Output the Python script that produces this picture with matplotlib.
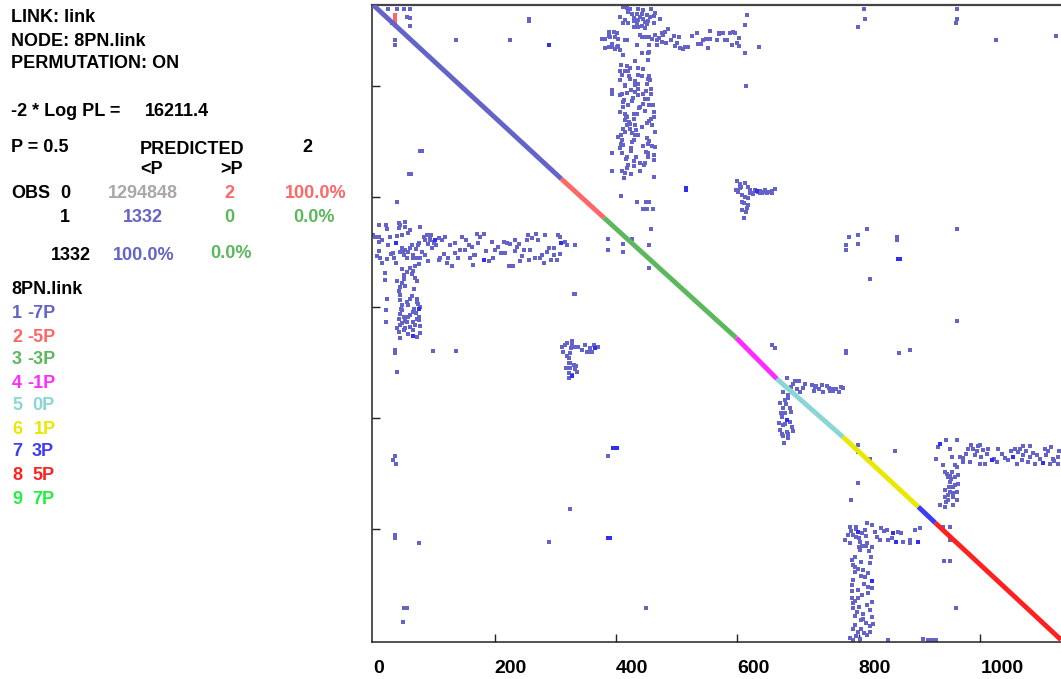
import matplotlib
matplotlib.use('Agg')
import matplotlib.pyplot as plt

# values, axis units
# diagonal, one stretch per class
diag_x = [0, 310, 380, 598, 665, 774, 898, 926, 1133]
diag_y = [1146, 832, 762, 545, 471, 366, 240, 211, 0]
class_nums = ['1', '2', '3', '4', '5', '6', '7', '8', '9']
class_names = ['-7P', '-5P', '-3P', '-1P', '0P', '1P', '3P', '5P', '7P']
class_colors = ['#6464c8', '#ff6666', '#5cb85c', '#ff2cff', '#88d6d6', '#e8e800', '#3c3cf0', '#ff2020', '#20f040']

# off diagonal links
top_blob_x = [412, 418, 423, 437, 445, 458, 407, 426, 434, 442, 451, 462, 415, 420, 429, 437, 445, 453, 462, 473, 412, 434, 442, 451, 437, 429, 448, 420, 430, 440, 448, 456, 465]
top_blob_y = [1143, 1141, 1139, 1139, 1137, 1139, 1125, 1130, 1130, 1130, 1128, 1126, 1119, 1114, 1122, 1119, 1120, 1118, 1113, 1120, 1114, 1112, 1108, 1112, 1106, 1107, 1105, 1133, 1118, 1125, 1116, 1124, 1131]
top_band_x = [377, 382, 388, 388, 396, 401, 399, 404, 415, 418, 382, 388, 393, 401, 406, 411, 434, 442, 448, 455, 464, 470, 475, 481, 486, 475, 467, 483, 495, 503, 497, 506, 514, 519, 455, 455, 442, 533, 555, 544, 555, 566, 580, 569, 577, 588, 596, 602, 591, 602, 535, 552, 613, 635, 613, 615, 614, 390, 394, 398, 403, 440, 446, 452, 460, 468, 478, 490, 500, 510, 525, 540, 548, 570, 582, 593, 600]
top_band_y = [1085, 1085, 1098, 1090, 1098, 1095, 1089, 1084, 1082, 1082, 1068, 1070, 1071, 1070, 1065, 1056, 1074, 1089, 1089, 1089, 1092, 1086, 1095, 1098, 1102, 1080, 1074, 1077, 1090, 1089, 1072, 1068, 1070, 1070, 1074, 1062, 1059, 1096, 1099, 1083, 1085, 1082, 1082, 1094, 1095, 1096, 1096, 1086, 1074, 1072, 1076, 1068, 1060, 1070, 1110, 1128, 1000, 1088, 1075, 1066, 1072, 1092, 1088, 1060, 1084, 1083, 1092, 1082, 1078, 1066, 1090, 1076, 1084, 1096, 1083, 1098, 1078]
top_stem_x = [431, 452, 408, 418, 423, 406, 415, 420, 437, 445, 406, 423, 437, 442, 455, 452, 456, 437, 393, 393, 410, 415, 407, 418, 431, 437, 451, 431, 437, 458, 458, 453, 448, 445, 426, 420, 411, 461, 463, 412, 407, 415, 418, 415, 429, 434, 429, 462, 455, 451, 423, 431, 418, 412, 423, 408, 404, 415, 410, 431, 437, 429, 426, 464, 451, 452, 445, 459, 464, 406, 412, 424, 393, 410, 418, 433, 453, 453, 463, 463, 439, 429, 420, 418, 448, 393, 410, 415, 424, 440, 413, 462, 410, 414, 421, 425, 428, 432, 436, 440, 444, 447, 450, 454, 457, 460, 413, 417, 422, 427, 433, 438, 443, 449, 455, 409, 416, 424, 430, 446]
top_stem_y = [1045, 1047, 1038, 1035, 1032, 1026, 1026, 1026, 1032, 1030, 1011, 1012, 1020, 1017, 1017, 1012, 1011, 1004, 992, 985, 986, 1000, 983, 988, 1001, 1003, 1004, 989, 983, 995, 985, 976, 976, 967, 973, 965, 970, 965, 953, 961, 953, 950, 944, 938, 950, 949, 941, 944, 937, 933, 932, 929, 929, 923, 923, 911, 908, 917, 902, 911, 911, 902, 899, 916, 905, 895, 892, 892, 890, 887, 893, 887, 879, 879, 872, 871, 878, 871, 875, 866, 860, 856, 857, 851, 860, 846, 846, 842, 841, 847, 833, 836, 1020, 1002, 1018, 992, 978, 1008, 995, 962, 985, 955, 990, 965, 940, 930, 975, 945, 935, 915, 920, 960, 925, 880, 900, 895, 868, 882, 865, 858]
top_side_x = [604, 613, 601, 621, 608, 618, 629, 637, 646, 657, 611, 618, 608, 614, 611, 598, 606, 618, 408, 434, 450, 455, 445, 451, 461, 600, 604, 612, 620, 626, 634, 640, 650, 608, 616]
top_side_y = [823, 825, 809, 812, 803, 798, 812, 810, 812, 810, 789, 785, 776, 773, 762, 812, 818, 818, 802, 791, 791, 791, 778, 778, 778, 828, 815, 800, 806, 805, 808, 806, 809, 790, 780]

left_band_x = [0, 10, 21, 22, 10, 28, 42, 42, 53, 53, 61, 77, 39, 47, 9, 9, 6, 14, 22, 33, 38, 47, 53, 61, 50, 71, 71, 77, 91, 86, 76, 88, 94, 108, 97, 119, 108, 117, 121, 130, 127, 135, 135, 146, 153, 143, 151, 162, 172, 171, 182, 160, 165, 168, 186, 190, 198, 195, 201, 215, 220, 234, 237, 234, 217, 223, 231, 242, 248, 259, 256, 253, 255, 268, 272, 283, 267, 278, 281, 289, 297, 308, 316, 302, 308, 297, 332, 57, 66, 100, 104, 86, 93, 3, 14, 25, 44, 49, 58, 64, 80, 96, 100, 110, 114, 124, 140, 157, 166, 176, 205, 210, 226, 240, 245, 262, 275, 286, 293, 304, 320, 12, 30, 35, 66, 74, 84, 90, 44, 56]
left_band_y = [731, 748, 748, 742, 728, 728, 752, 743, 755, 746, 740, 745, 729, 731, 718, 701, 692, 680, 687, 698, 681, 707, 704, 707, 695, 705, 689, 689, 684, 695, 716, 731, 722, 725, 707, 727, 686, 696, 680, 674, 713, 716, 698, 727, 722, 703, 704, 709, 716, 733, 733, 689, 677, 695, 701, 683, 689, 718, 704, 719, 716, 722, 710, 701, 698, 675, 674, 683, 704, 704, 686, 722, 731, 733, 722, 731, 689, 695, 681, 707, 707, 727, 719, 686, 697, 695, 713, 700, 695, 716, 712, 722, 726, 727, 722, 712, 748, 700, 735, 712, 700, 730, 718, 690, 722, 690, 690, 712, 694, 728, 710, 698, 714, 715, 692, 725, 690, 700, 685, 730, 712, 690, 696, 690, 690, 712, 728, 715, 700, 690]
left_stem_x = [20, 20, 22, 21, 21, 47, 61, 69, 75, 66, 50, 40, 47, 53, 44, 69, 72, 68, 44, 44, 47, 61, 72, 58, 77, 66, 44, 50, 58, 72, 75, 55, 77, 44, 61, 42, 50, 66, 77, 72, 44, 36, 36, 99, 136, 39, 72, 55, 64, 47, 68, 53, 69, 39, 42, 50, 56, 64, 74, 46, 60, 70, 48, 65, 52, 76, 43, 58]
left_stem_y = [662, 650, 616, 595, 574, 669, 671, 674, 678, 665, 659, 648, 644, 638, 636, 653, 647, 633, 622, 613, 604, 616, 615, 604, 601, 592, 589, 583, 583, 580, 577, 574, 566, 568, 565, 556, 559, 559, 553, 547, 544, 523, 518, 521, 521, 483, 610, 610, 620, 595, 598, 575, 568, 562, 630, 652, 664, 660, 606, 598, 586, 590, 572, 574, 563, 583, 580, 552]
hook_x = [311, 313, 319, 327, 330, 324, 322, 324, 330, 335, 322, 322, 324, 344, 349, 357, 360, 371, 330, 333, 386, 386, 412, 412, 426, 455, 458, 455, 318, 332, 328, 316, 326, 320, 334, 328, 338, 352, 364, 354, 322]
hook_y = [528, 520, 535, 540, 529, 517, 508, 499, 496, 484, 481, 473, 490, 523, 532, 526, 520, 529, 624, 624, 723, 704, 714, 700, 723, 713, 741, 672, 490, 488, 532, 532, 526, 512, 494, 478, 528, 520, 532, 520, 500]

mid_x = [681, 695, 702, 689, 708, 703, 722, 730, 739, 741, 747, 755, 763, 774, 675, 684, 670, 675, 686, 673, 686, 675, 670, 681, 692, 675, 684, 678, 678, 684, 750, 758, 770, 728, 672, 680, 688, 678, 690, 674, 684, 668, 676, 712, 726, 735, 752, 768, 692, 698]
mid_y = [472, 468, 468, 457, 454, 447, 460, 458, 460, 447, 458, 452, 452, 454, 447, 442, 427, 418, 418, 403, 394, 388, 379, 376, 377, 367, 364, 409, 433, 436, 455, 449, 456, 456, 410, 426, 412, 390, 384, 372, 372, 392, 355, 462, 450, 452, 450, 448, 462, 452]
right_x = [931, 944, 961, 950, 927, 953, 939, 966, 977, 988, 997, 1005, 1013, 1030, 1035, 972, 983, 991, 1002, 999, 1008, 1027, 1046, 1057, 1062, 1071, 1082, 1071, 1082, 1093, 1060, 1079, 1090, 1106, 1117, 1109, 1120, 1128, 1115, 1128, 942, 953, 961, 947, 958, 950, 964, 942, 950, 961, 942, 955, 947, 933, 942, 955, 961, 950, 955, 947, 958, 972, 980, 994, 1000, 1011, 1022, 1040, 1050, 1066, 1076, 1087, 1098, 1112, 1122, 1130, 945, 952, 958, 964, 948, 955, 944, 985, 1068]
right_y = [348, 360, 360, 345, 326, 330, 315, 330, 336, 345, 350, 342, 345, 345, 336, 321, 321, 333, 330, 318, 318, 321, 324, 345, 339, 350, 350, 333, 330, 333, 318, 321, 317, 345, 348, 333, 327, 330, 318, 317, 303, 303, 312, 294, 294, 285, 282, 270, 267, 267, 258, 258, 252, 243, 240, 243, 252, 296, 276, 262, 316, 328, 345, 340, 352, 336, 326, 328, 340, 344, 340, 338, 326, 340, 322, 340, 300, 290, 280, 298, 275, 265, 248, 352, 324]
bottom_x = [785, 796, 813, 821, 777, 785, 802, 810, 826, 837, 846, 865, 835, 848, 873, 884, 892, 901, 813, 821, 802, 793, 788, 804, 818, 793, 807, 793, 815, 810, 791, 788, 799, 821, 788, 799, 791, 821, 813, 793, 807, 818, 821, 807, 793, 804, 818, 799, 813, 791, 802, 790, 795, 806, 812, 800, 790, 785, 787, 795, 800, 806, 811, 816, 820, 790, 798, 804, 809, 815, 790, 797, 803, 812, 818, 796, 808, 788, 793, 800, 805, 815, 823, 782, 830, 842, 855, 870, 885]
bottom_y = [204, 204, 210, 207, 181, 174, 177, 198, 195, 201, 198, 195, 180, 180, 177, 180, 198, 201, 174, 168, 162, 150, 144, 141, 139, 132, 126, 123, 120, 114, 108, 99, 90, 93, 76, 75, 66, 69, 63, 43, 47, 53, 41, 38, 26, 20, 25, 14, 8, 0, 2, 190, 185, 170, 188, 168, 20, 4, 196, 200, 183, 192, 170, 160, 150, 135, 128, 115, 100, 85, 58, 50, 35, 30, 14, 6, 12, 88, 70, 60, 80, 96, 28, 190, 186, 196, 184, 192, 174]

single_x = [24, 39, 50, 60, 36, 36, 60, 55, 60, 31, 136, 225, 256, 256, 77, 80, 59, 62, 39, 809, 810, 798, 961, 962, 960, 1026, 1125, 636, 626, 637, 643, 648, 657, 662, 813, 783, 799, 779, 779, 799, 863, 863, 962, 819, 961, 657, 662, 779, 779, 866, 885, 798, 799, 818, 798, 787, 859, 848, 906, 914, 920, 927, 939, 950, 950, 941, 950, 960, 36, 33, 37, 386, 324, 36, 36, 76, 290, 50, 55, 450, 49]
single_y = [1139, 1139, 1139, 1139, 1082, 1074, 1122, 1125, 1108, 1113, 1082, 1082, 1121, 1118, 883, 883, 841, 841, 790, 1139, 1121, 1107, 1139, 1121, 1113, 1082, 1090, 1071, 807, 806, 809, 807, 807, 813, 741, 727, 730, 712, 704, 715, 727, 722, 741, 652, 575, 532, 527, 521, 517, 518, 523, 351, 339, 327, 283, 252, 341, 0, 1, 0, 0, 0, 204, 204, 180, 143, 143, 57, 332, 324, 318, 332, 236, 189, 183, 175, 176, 57, 57, 57, 32]

# brighter points, where several links fall on one cell
bright_x = [290, 515, 515, 632, 38, 102, 182, 310, 75, 66, 327, 366, 681, 933, 1019, 1054, 1104, 799, 857, 862, 898, 821, 864, 868, 395, 401, 386, 390]
bright_y = [1074, 812, 815, 811, 716, 722, 686, 716, 597, 548, 477, 526, 397, 354, 324, 330, 320, 195, 192, 177, 177, 106, 687, 687, 346, 346, 183, 183]

# the short red mark next to the diagonal
red_x = [36, 36, 36, 36]
red_y = [1128, 1122, 1116, 1110]

tick_vals = [200, 400, 600, 800, 1000]

fig = plt.figure(figsize=(10.61, 6.79), dpi=100)
W, H = 1061.0, 679.0
ax = fig.add_axes([372 / W, 1 - 642 / H, (W - 372) / W, (642 - 5) / H])

for i in range(len(diag_x) - 1):
    ax.plot(diag_x[i:i + 2], diag_y[i:i + 2], color=class_colors[i], lw=3.5, solid_capstyle='butt', zorder=3)

link_color = '#6464c8'
groups = [(top_blob_x, top_blob_y), (top_band_x, top_band_y), (top_stem_x, top_stem_y), (top_side_x, top_side_y),
          (left_band_x, left_band_y), (left_stem_x, left_stem_y), (hook_x, hook_y),
          (mid_x, mid_y), (right_x, right_y), (bottom_x, bottom_y), (single_x, single_y)]
for gx, gy in groups:
    ax.scatter(gx, gy, s=7.5, marker='s', color=link_color, linewidths=0, zorder=2)
ax.scatter(bright_x, bright_y, s=7.5, marker='s', color='#3030f0', linewidths=0, zorder=2)
ax.scatter(red_x, red_y, s=7.5, marker='s', color=class_colors[1], linewidths=0, zorder=2)

ax.set_xlim(-2, 1133)
ax.set_ylim(-4, 1146)
ax.set_xticks([0] + tick_vals)
ax.set_xticklabels(['0'] + [str(v) for v in tick_vals], fontsize=14, fontweight='bold', family='Liberation Sans', ha='left')
ax.set_yticks(tick_vals)
ax.set_yticklabels([])
ax.tick_params(axis='both', direction='in', length=5.5, width=1, color='#222222')
ax.tick_params(axis='x', pad=13)
ax.get_xticklines()[0].set_visible(False)
ax.spines['right'].set_visible(False)
for side in ['left', 'bottom']:
    ax.spines[side].set_linewidth(1.1)
    ax.spines[side].set_color('#222222')
ax.spines['top'].set_linewidth(1.6)
ax.spines['top'].set_color('#444444')


def put(px, py, s, color='black'):
    # px, py: left edge and vertical centre in image pixels
    fig.text(px / W, 1 - (py + 2) / H, s, color=color, fontsize=13, fontweight='bold',
             family='Liberation Sans', ha='left', va='center')


gray = '#aaa6aa'
put(11, 16, 'LINK: link')
put(11, 39, 'NODE: 8PN.link')
put(11, 62, 'PERMUTATION: ON')
put(11, 110, '-2 * Log PL =')
put(145, 110, '16211.4')
put(11, 146, 'P = 0.5')
put(140, 147, 'PREDICTED')
put(302, 145, '2')
put(140, 168, '<P')
put(220, 168, '>P')
put(11, 192, 'OBS')
put(60, 192, '0')
put(108, 192, '1294848', gray)
put(224, 192, '2', class_colors[1])
put(285, 191, '100.0%', class_colors[1])
put(60, 216, '1')
put(123, 216, '1332', class_colors[0])
put(224, 216, '0', class_colors[2])
put(293, 215, '0.0%', class_colors[2])
put(51, 253, '1332')
put(113, 253, '100.0%', class_colors[0])
put(210, 252, '0.0%', class_colors[2])
put(11, 287, '8PN.link')

legend_py = [311, 335, 357, 381, 404, 427, 450, 474, 497]
for i in range(9):
    put(12, legend_py[i], class_nums[i], class_colors[i])
    name = class_names[i]
    put(27 if name.startswith('-') else 32 if name != '1P' else 34, legend_py[i], name, class_colors[i])

fig.savefig('out.png', dpi=100)
